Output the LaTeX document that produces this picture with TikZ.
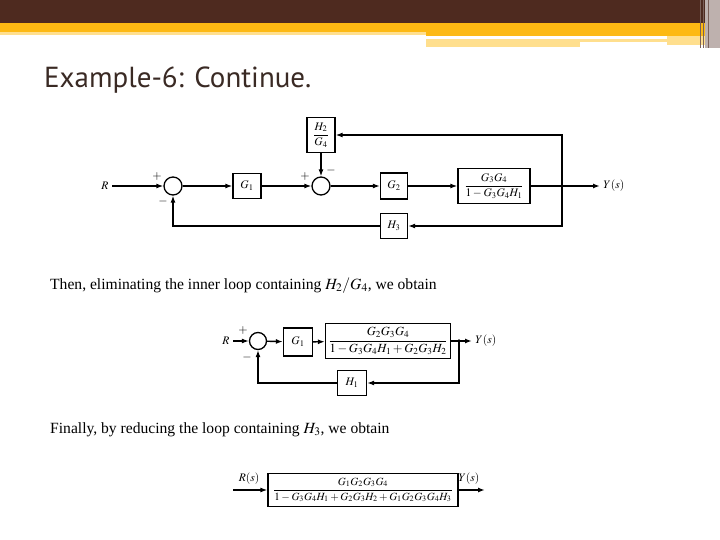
\documentclass[tikz,border=0pt]{standalone}
\usepackage{mathptmx}
\usepackage{fontspec}
\setmainfont{Liberation Serif}
\newfontfamily\titlefont{PT Sans}
\usetikzlibrary{arrows.meta}

\definecolor{barbrown}{HTML}{4E2A1F}
\definecolor{bargold}{HTML}{FDB913}
\definecolor{barlight}{HTML}{FFDF8E}
\definecolor{bargrey}{HTML}{BEB1AE}
\definecolor{titlecol}{HTML}{3A2A24}

\tikzset{
  blk/.style={draw,line width=1.3pt,fill=white,inner sep=2pt},
  sumj/.style={draw,circle,line width=1.3pt,minimum size=18pt,inner sep=0pt},
  sig/.style={line width=1.4pt,-{Latex[length=7pt,width=5pt]}},
  sgn/.style={inner sep=0pt,font=\fontsize{12}{12}\selectfont}
}

\begin{document}
\begin{tikzpicture}[x=1pt,y=-1pt,font=\fontsize{11.5}{12}\selectfont]
    \useasboundingbox (0,0) rectangle (720,540);
    \fill[white] (0,0) rectangle (720,540);
    % header bars
    \fill[barbrown] (0,0) rectangle (705,23);
    \fill[bargold] (0,23) rectangle (705,32);
    \fill[barlight] (0,32) rectangle (426,35);
    \fill[bargold] (426,32) rectangle (705,36);
    \fill[barlight] (426,39) rectangle (667,42);
    \fill[barlight] (426,42) rectangle (580,47);
    \fill[barlight] (667,36) rectangle (705,45);
    \fill[bargrey] (705,0) rectangle (720,48);
    \foreach \xs in {700,703,708}
      \draw[barbrown!60!bargrey,line width=1pt] (\xs,0) -- (\xs,48);
    \node[anchor=base west,inner sep=0pt,text=titlecol,font=\titlefont\fontsize{29}{34}\selectfont] (title) at (44,88) {Example-6: Continue.};

    % first diagram
    \node (r1) at (105,186) {$R$};
    \node[sumj] (s1) at (173,186) {};
    \node[blk,minimum width=28pt,minimum height=25pt] (g1) at (247,186) {$G_1$};
    \node[sumj] (s2) at (321,186) {};
    \node[blk,minimum width=28pt,minimum height=35pt] (h2) at (321,135) {$\displaystyle\frac{H_2}{G_4}$};
    \node[blk,minimum width=27pt,minimum height=26pt] (g2) at (394,186) {$G_2$};
    \node[blk,minimum width=72pt,minimum height=35pt] (g34) at (494,186) {$\displaystyle\frac{G_3G_4}{1-G_3G_4H_1}$};
    \node[blk,minimum width=27pt,minimum height=25pt] (h3) at (394,226) {$H_3$};
    \coordinate (p1) at (562,186);
    \node[anchor=west] (y1) at (600,186) {$Y(s)$};
    \node[sgn] (pa) at (157,177) {$+$};
    \node[sgn] (ma) at (163,202) {$-$};
    \node[sgn] (pb) at (305,177) {$+$};
    \node[sgn] (mb) at (331,171) {$-$};
    \draw[sig] (r1) -- (s1);
    \draw[sig] (s1) -- (g1);
    \draw[sig] (g1) -- (s2);
    \draw[sig] (h2) -- (s2);
    \draw[sig] (s2) -- (g2);
    \draw[sig] (g2) -- (g34);
    \draw[sig] (g34) -- (y1);
    \fill (p1) circle (1.8);
    \draw[sig] (p1) |- (h2);
    \draw[sig] (p1) |- (h3);
    \draw[sig] (h3) -| (s1);

    \node[anchor=base west,inner sep=0pt,font=\fontsize{15.6}{18}\selectfont] (txt1) at (50,289) {Then, eliminating the inner loop containing $H_2/G_4$, we obtain};

    % second diagram
    \node (r2) at (226,341) {$R$};
    \node[sumj,minimum size=17pt] (s3) at (258,341) {};
    \node[blk,minimum width=29pt,minimum height=28pt] (g1b) at (298,342) {$G_1$};
    \node[blk,minimum width=125pt,minimum height=35pt,font=\fontsize{12.5}{13}\selectfont] (g234) at (388,341) {$\displaystyle\frac{G_2G_3G_4}{1-G_3G_4H_1+G_2G_3H_2}$};
    \node[blk,minimum width=29pt,minimum height=25pt] (h1) at (352,383) {$H_1$};
    \coordinate (p2) at (459,341);
    \node[anchor=west] (y2) at (472,341) {$Y(s)$};
    \node[sgn] (pc) at (243,331) {$+$};
    \node[sgn] (mc) at (247,357) {$-$};
    \draw[sig] (r2) -- (s3);
    \draw[sig] (s3) -- (g1b);
    \draw[sig] (g1b) -- (g234);
    \draw[sig] (g234) -- (y2);
    \fill (p2) circle (1.8);
    \draw[sig] (p2) |- (h1);
    \draw[sig] (h1) -| (s3);

    \node[anchor=base west,inner sep=0pt,font=\fontsize{15.6}{18}\selectfont] (txt2) at (50,433) {Finally, by reducing the loop containing $H_3$, we obtain};

    % third diagram
    \node[blk,minimum width=190pt,minimum height=33pt,font=\fontsize{11}{12}\selectfont] (tot) at (363,490) {$\displaystyle\frac{G_1G_2G_3G_4}{1-G_3G_4H_1+G_2G_3H_2+G_1G_2G_3G_4H_3}$};
    \coordinate (in3) at (233,490);
    \coordinate (out3) at (485,490);
    \node (r3) at (249,479) {$R(s)$};
    \node (y3) at (469,479) {$Y(s)$};
    \draw[sig] (in3) -- (tot);
    \draw[sig] (tot) -- (out3);
\end{tikzpicture}
\end{document}
